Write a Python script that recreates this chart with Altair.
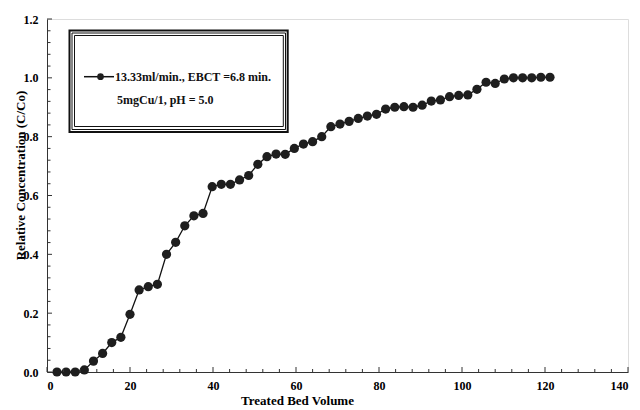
import altair as alt
import pandas as pd

bed_volume = [2.4, 4.6, 6.8, 9.0, 11.2, 13.4, 15.6, 17.8, 20.0, 22.2,
              24.4, 26.6, 28.8, 31.0, 33.2, 35.4, 37.6, 39.8, 42.0, 44.2,
              46.4, 48.6, 50.8, 53.0, 55.2, 57.4, 59.6, 61.8, 64.0, 66.2,
              68.4, 70.6, 72.8, 75.0, 77.2, 79.4, 81.6, 83.8, 86.0, 88.2,
              90.4, 92.6, 94.8, 97.0, 99.2, 101.4, 103.6, 105.8, 108.0, 110.2,
              112.4, 114.6, 116.8, 119.0, 121.2]
rel_conc = [0.0, 0.0, 0.0, 0.007, 0.037, 0.063, 0.10, 0.118, 0.196, 0.279,
            0.29, 0.298, 0.40, 0.441, 0.497, 0.531, 0.539, 0.63, 0.638, 0.638,
            0.653, 0.668, 0.706, 0.732, 0.741, 0.74, 0.76, 0.775, 0.783, 0.80,
            0.834, 0.843, 0.852, 0.862, 0.870, 0.876, 0.894, 0.90, 0.902, 0.90,
            0.907, 0.921, 0.925, 0.936, 0.94, 0.942, 0.961, 0.985, 0.981, 0.996,
            1.0, 1.0, 1.0, 1.002, 1.002]

x_major_ticks = [0, 20, 40, 60, 80, 100, 120, 140]
x_minor_ticks = [v for v in range(4, 140, 4) if v % 20 != 0]
y_major_ticks = [0.0, 0.2, 0.4, 0.6, 0.8, 1.0, 1.2]
y_minor_ticks = [round(0.04 * i, 2) for i in range(1, 30) if i % 5 != 0]

legend_line1 = "13.33ml/min., EBCT =6.8 min."
legend_line2 = "5mgCu/1, pH = 5.0"

W, H = 581, 353
FONT = "Liberation Serif"

df = pd.DataFrame({"bv": bed_volume, "c": rel_conc})
xs = alt.Scale(domain=[0, 140], nice=False)
ys = alt.Scale(domain=[0, 1.2], nice=False)

x_axis = alt.Axis(values=x_major_ticks, format="d", ticks=False, grid=False,
                  domainColor="#333", labelFont=FONT, labelFontWeight="bold",
                  labelFontSize=12, labelColor="#000", labelPadding=8,
                  title="Treated Bed Volume", titleFont=FONT, titleFontWeight="bold",
                  titleFontSize=13, titleColor="#000", titleX=250, titleY=22,
                  titleBaseline="top", titleAnchor="middle")
y_axis = alt.Axis(values=y_major_ticks, format=".1f", ticks=False, grid=False,
                  domainColor="#333", labelFont=FONT, labelFontWeight="bold",
                  labelFontSize=12, labelColor="#000", labelPadding=9,
                  title="Relative Concentration (C/Co)", titleFont=FONT,
                  titleFontWeight="bold", titleFontSize=13, titleColor="#000",
                  titleX=-27, titleY=156, titleAngle=-90, titleBaseline="middle",
                  titleAlign="center")

line = alt.Chart(df).mark_line(color="#111", strokeWidth=1.3).encode(
    x=alt.X("bv:Q", scale=xs, axis=x_axis),
    y=alt.Y("c:Q", scale=ys, axis=y_axis),
)
pts = alt.Chart(df).mark_point(filled=True, shape="circle", size=85,
                               color="#1e1e1e", opacity=1).encode(
    x=alt.X("bv:Q", scale=xs), y=alt.Y("c:Q", scale=ys))

xmaj = alt.Chart(pd.DataFrame({"t": x_major_ticks})).mark_rule(color="#333").encode(
    x=alt.X("t:Q", scale=xs), y=alt.value(H), y2=alt.value(H - 5))
xmin = alt.Chart(pd.DataFrame({"t": x_minor_ticks})).mark_rule(color="#333").encode(
    x=alt.X("t:Q", scale=xs), y=alt.value(H), y2=alt.value(H - 3))
ymaj = alt.Chart(pd.DataFrame({"t": y_major_ticks})).mark_rule(color="#333").encode(
    y=alt.Y("t:Q", scale=ys), x=alt.value(0), x2=alt.value(5))
ymin = alt.Chart(pd.DataFrame({"t": y_minor_ticks})).mark_rule(color="#333").encode(
    y=alt.Y("t:Q", scale=ys), x=alt.value(0), x2=alt.value(3.5))

one = pd.DataFrame({"a": [0]})
box1 = alt.Chart(one).mark_rect(fill="white", stroke="#111", strokeWidth=2).encode(
    x=alt.value(22.5), x2=alt.value(240.7), y=alt.value(11.5), y2=alt.value(113))
box2 = alt.Chart(one).mark_rect(fill="white", stroke="#111", strokeWidth=1).encode(
    x=alt.value(25), x2=alt.value(238.5), y=alt.value(14), y2=alt.value(110.5))
box3 = alt.Chart(one).mark_rect(fill="white", stroke="#111", strokeWidth=1).encode(
    x=alt.value(27.5), x2=alt.value(236.3), y=alt.value(16.5), y2=alt.value(107.5))
leg_line = alt.Chart(one).mark_rule(color="#111", strokeWidth=1.5).encode(
    x=alt.value(37), x2=alt.value(67), y=alt.value(57.7))
leg_pt = alt.Chart(one).mark_point(filled=True, shape="circle", size=45,
                                   color="#1e1e1e", opacity=1).encode(
    x=alt.value(53.5), y=alt.value(57.7))
t1 = alt.Chart(pd.DataFrame({"t": [legend_line1]})).mark_text(
    align="left", baseline="middle", font=FONT, fontWeight="bold", fontSize=12,
    color="#111").encode(x=alt.value(68), y=alt.value(57.7), text="t:N")
t2 = alt.Chart(pd.DataFrame({"t": [legend_line2]})).mark_text(
    align="left", baseline="middle", font=FONT, fontWeight="bold", fontSize=12,
    color="#111").encode(x=alt.value(70), y=alt.value(81), text="t:N")

chart = alt.layer(line, pts, xmaj, xmin, ymaj, ymin,
                  box1, box2, box3, leg_line, leg_pt, t1, t2).properties(
    width=W, height=H,
    padding={"left": 39, "top": 11, "right": 4, "bottom": 36},
    autosize=alt.AutoSizeParams(type="none"),
).configure_view(stroke="#888", strokeWidth=1).configure(background="white")

chart.save("out.html", embed_options={"renderer": "svg", "actions": False})
